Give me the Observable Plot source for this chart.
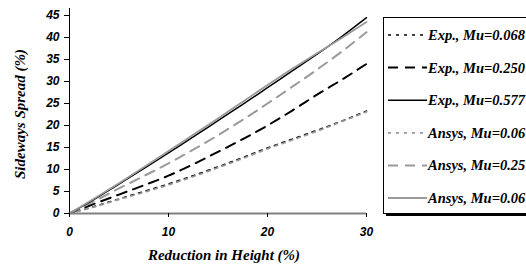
<!DOCTYPE html>
<html>
<head>
<meta charset="utf-8">
<script src="https://cdn.jsdelivr.net/npm/d3@7"></script>
<script src="https://cdn.jsdelivr.net/npm/@observablehq/plot@0.6"></script>
<style>
  html, body { margin: 0; padding: 0; background: #fff; overflow: hidden; }
  #wrap { position: relative; width: 526px; height: 266px; overflow: hidden; }
  #wrap svg { position: absolute; left: 0; top: 0; }
</style>
</head>
<body>
<div id="wrap"></div>
<script>
// ---- data ----
const reduction = [0, 2.5, 5, 7.5, 10, 12.5, 15, 17.5, 20, 22.5, 25, 27.5, 30];
const expMu0068   = [0, 1.6, 3.3, 5.0, 6.7, 8.6, 10.6, 12.7, 14.9, 16.9, 18.9, 21.0, 23.3];
const expMu0250   = [0, 2.2, 4.3, 6.4, 8.6, 11.2, 14.0, 16.9, 20.0, 23.4, 27.0, 30.4, 34.0];
const expMu0577   = [0, 3.2, 6.7, 10.2, 13.8, 17.4, 21.1, 24.8, 28.6, 32.4, 36.2, 40.2, 44.5];
const ansysMu006d = [0, 1.5, 3.2, 4.8, 6.5, 8.4, 10.4, 12.5, 14.7, 16.7, 18.7, 20.9, 23.1];
const ansysMu025  = [0, 2.8, 5.7, 8.5, 11.4, 14.5, 17.8, 21.3, 25.0, 28.8, 32.7, 36.8, 41.2];
const ansysMu006s = [0, 3.4, 6.9, 10.5, 14.2, 17.9, 21.6, 25.4, 29.2, 32.9, 36.4, 39.9, 43.5];

const seriesNames = ["Exp., Mu=0.068", "Exp., Mu=0.250", "Exp., Mu=0.577",
                     "Ansys, Mu=0.06", "Ansys, Mu=0.25", "Ansys, Mu=0.06 "];
const seriesValues = [expMu0068, expMu0250, expMu0577, ansysMu006d, ansysMu025, ansysMu006s];

const xTicks = [0, 10, 20, 30];
const yTicks = [0, 5, 10, 15, 20, 25, 30, 35, 40, 45];

// ---- styles ----
const styles = [
  {stroke: "#000", dash: "3,5", width: 1.6},
  {stroke: "#000", dash: "10,7", width: 2},
  {stroke: "#000", dash: null, width: 1.5},
  {stroke: "#9a9a9a", dash: "3,5", width: 1.8},
  {stroke: "#9a9a9a", dash: "10,7", width: 2},
  {stroke: "#9a9a9a", dash: null, width: 1.8}
];

const tables = seriesValues.map((vals, i) =>
  reduction.map((x, j) => ({x, y: vals[j], s: seriesNames[i]})));

// draw order: back to front
const order = [1, 4, 0, 3, 2, 5];
const lineMarks = order.map(i => Plot.line(tables[i], {
  x: "x", y: "y",
  stroke: styles[i].stroke,
  strokeWidth: styles[i].width,
  strokeDasharray: styles[i].dash || undefined,
  curve: "monotone-x"
}));

const tickFont = "bold italic 12px 'Liberation Sans', Arial, sans-serif";

const chart = Plot.plot({
  width: 526,
  height: 266,
  marginLeft: 69,
  marginRight: 160,
  marginTop: 15,
  marginBottom: 53,
  style: {font: tickFont, color: "#000", background: "transparent", overflow: "visible"},
  x: {domain: [0, 30]},
  y: {domain: [0, 45]},
  marks: [
    ...lineMarks,
    Plot.ruleX([0], {y1: 0, y2: 46.6, stroke: "#000", strokeWidth: 1}),
    Plot.ruleY([0], {x1: 0, x2: 30, stroke: "#808080", strokeWidth: 2}),
    Plot.axisX(xTicks, {tickSize: 4, tickPadding: 10, label: null, stroke: "#000", fill: "#000"}),
    Plot.axisY(yTicks, {tickSize: 5, tickPadding: 5, label: null, stroke: "#000", fill: "#000"})
  ]
});

const wrap = document.getElementById("wrap");
wrap.appendChild(chart);

// ---- overlay: titles and legend ----
const ns = "http://www.w3.org/2000/svg";
const ov = document.createElementNS(ns, "svg");
ov.setAttribute("width", 526);
ov.setAttribute("height", 266);
ov.style.pointerEvents = "none";
wrap.appendChild(ov);
function el(name, attrs, text) {
  const e = document.createElementNS(ns, name);
  for (const k in attrs) e.setAttribute(k, attrs[k]);
  if (text != null) e.textContent = text;
  ov.appendChild(e);
  return e;
}
const serif = "'Liberation Serif', 'Times New Roman', serif";

el("text", {x: 224, y: 260, "text-anchor": "middle", "font-family": serif,
  "font-weight": "bold", "font-style": "italic", "font-size": 15}, "Reduction in Height (%)");
el("text", {x: 0, y: 0, transform: "translate(25,114) rotate(-90)", "text-anchor": "middle",
  "font-family": serif, "font-weight": "bold", "font-style": "italic", "font-size": 15},
  "Sideways Spread (%)");

// legend box with shadow
const lx = 383, ly = 17, lw = 200, lh = 196;
el("rect", {x: lx + 3, y: ly + 3, width: lw, height: lh, fill: "#000"});
el("rect", {x: lx + 0.5, y: ly + 0.5, width: lw, height: lh, fill: "#fff", stroke: "#000", "stroke-width": 1});
seriesNames.forEach((name, i) => {
  const cy = 35 + i * 32.6;
  const st = styles[i];
  const a = {x1: 388, x2: 427, y1: cy, y2: cy, stroke: st.stroke, "stroke-width": st.width};
  if (st.dash) a["stroke-dasharray"] = st.dash;
  el("line", a);
  el("text", {x: 428, y: cy + 5, "font-family": serif, "font-weight": "bold",
    "font-style": "italic", "font-size": 14.5}, name.trim());
});
</script>
</body>
</html>
